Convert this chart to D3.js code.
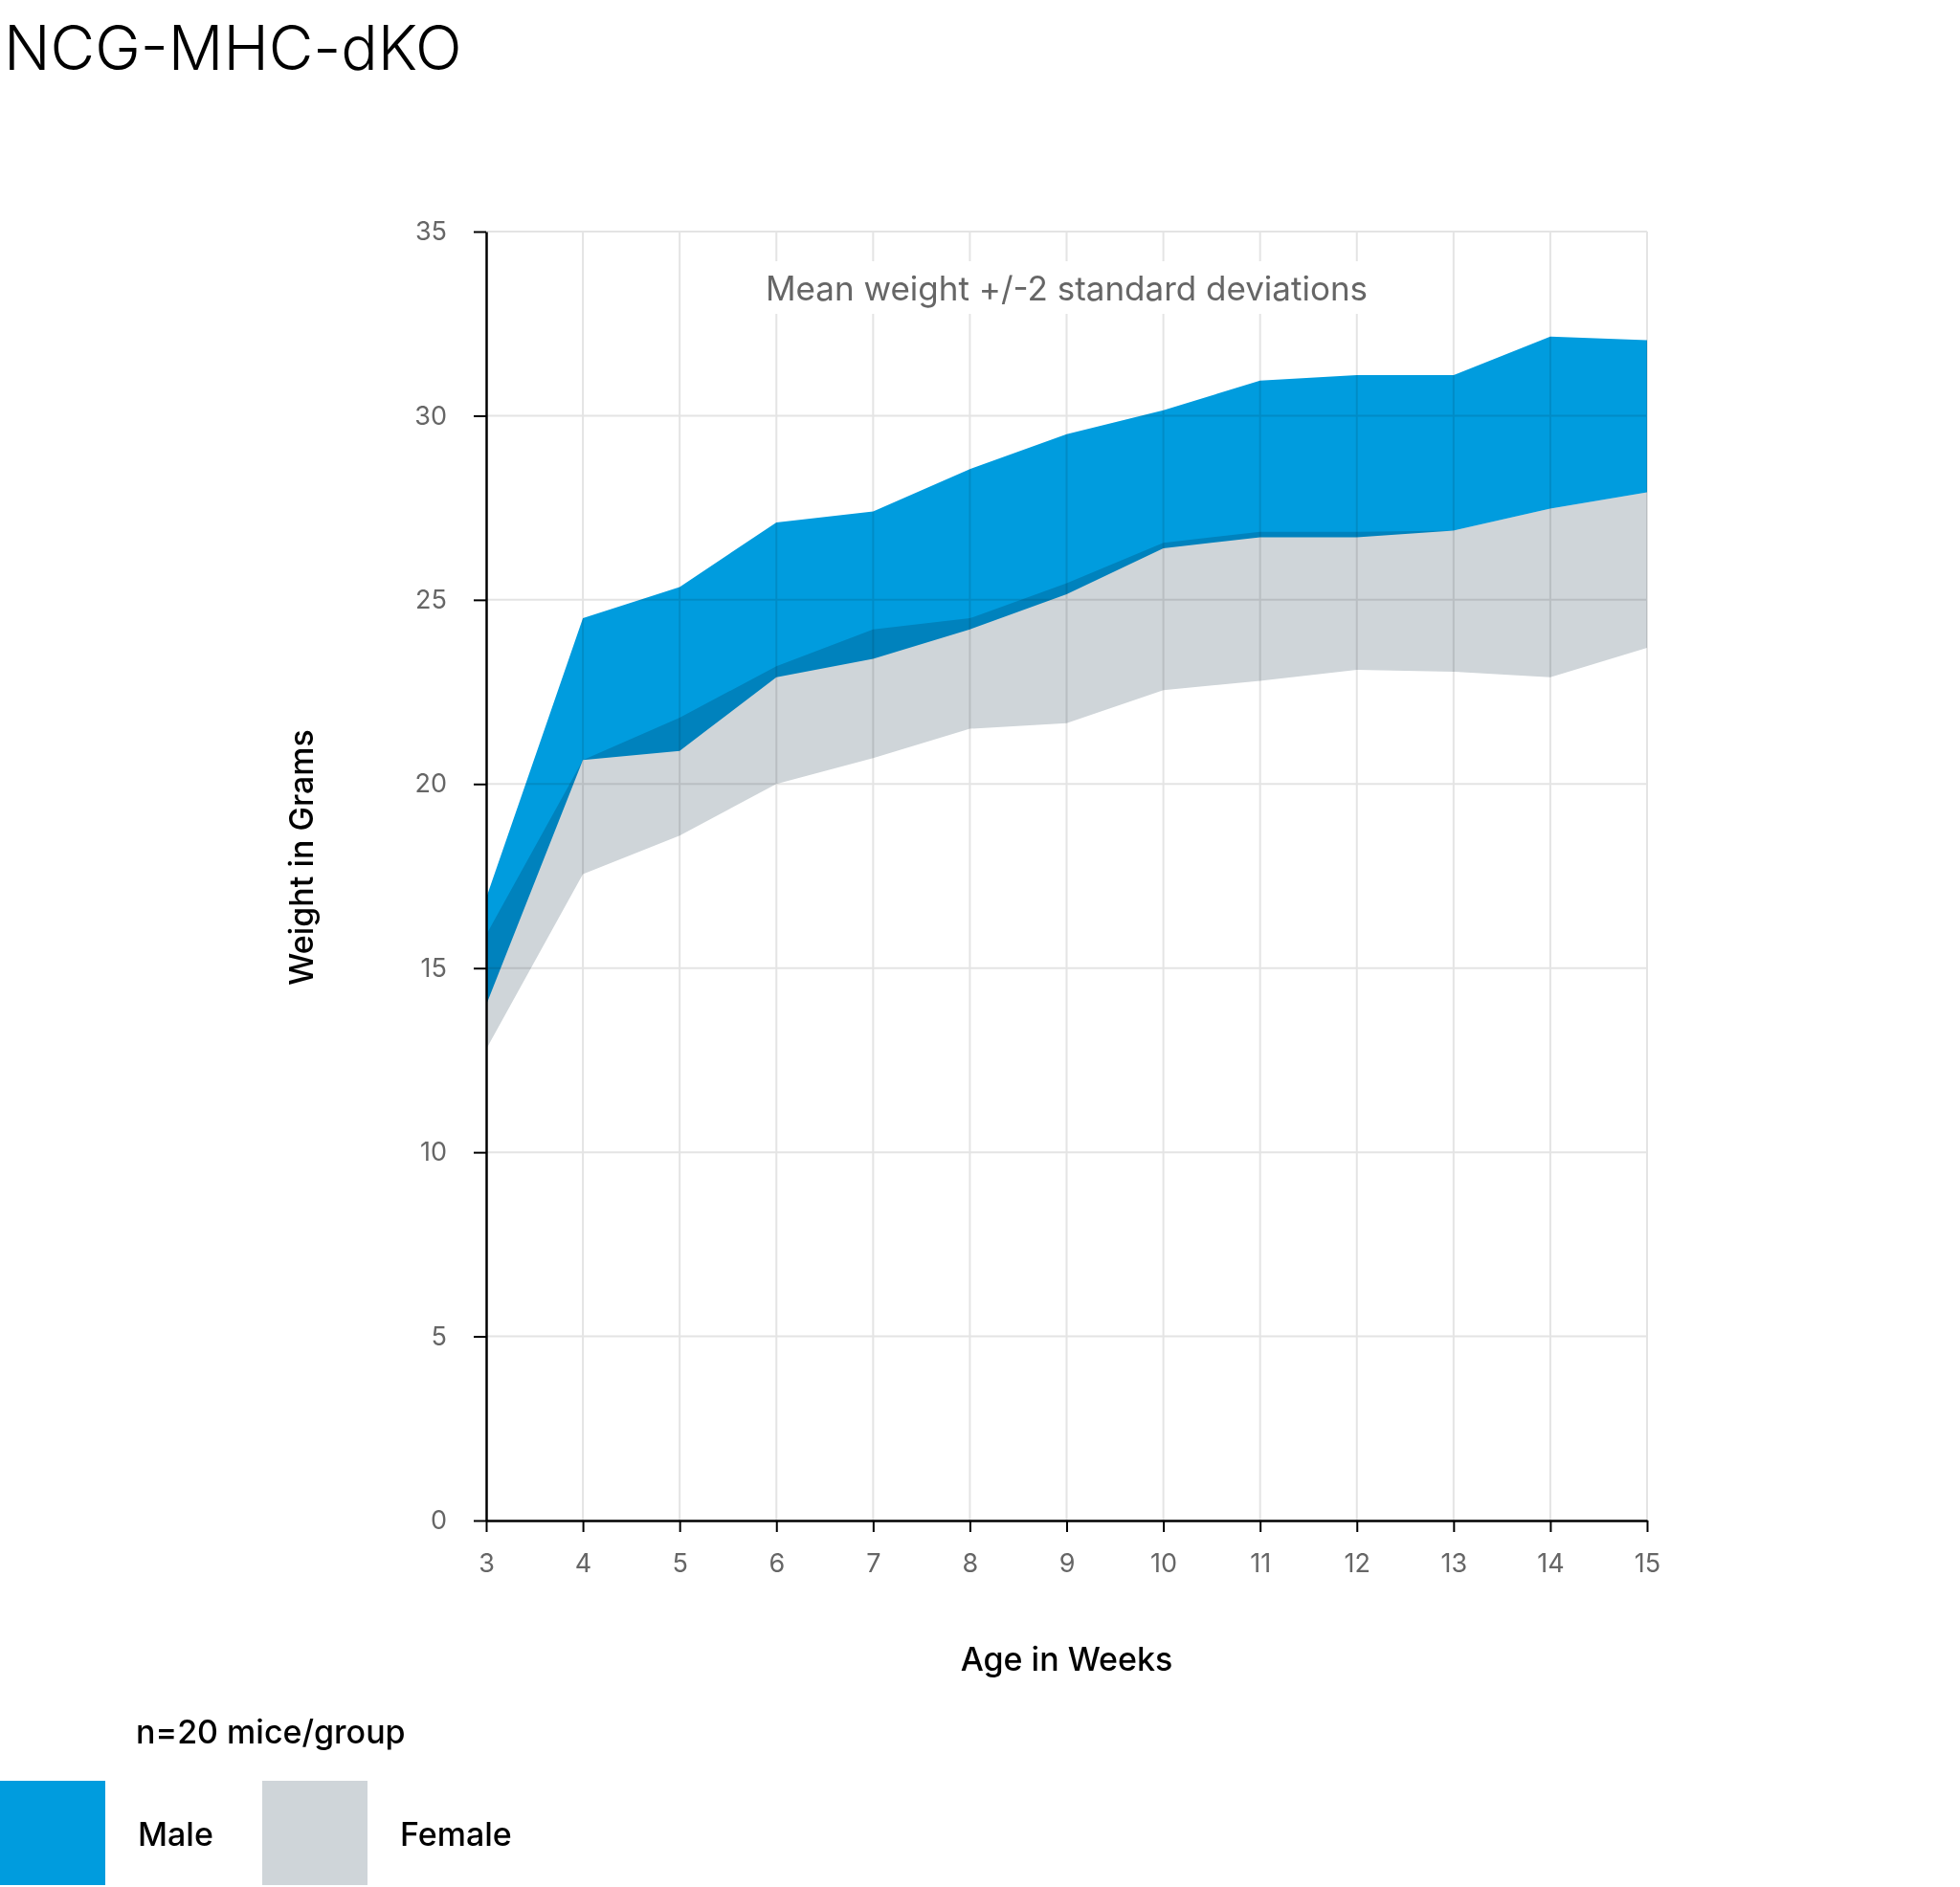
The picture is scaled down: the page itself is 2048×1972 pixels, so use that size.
<!DOCTYPE html>
<html>
<head>
<meta charset="utf-8">
<title>NCG-MHC-dKO</title>
<script src="https://cdn.jsdelivr.net/npm/d3@7"></script>
<style>
  body { margin: 0; background: #fff; }
  svg { display: block; font-family: Inter, "Noto Sans", sans-serif; }
  .area { mix-blend-mode: multiply; }
</style>
</head>
<body>
<div id="chart"></div>
<script>
// weeks of age
var weeks = [3, 4, 5, 6, 7, 8, 9, 10, 11, 12, 13, 14, 15];
var weightTicks = [0, 5, 10, 15, 20, 25, 30, 35];

// mean +/- 2 SD, grams
var maleUpper   = [16.9, 24.5, 25.35, 27.1, 27.4, 28.55, 29.5, 30.15, 30.95, 31.1, 31.1, 32.15, 32.05];
var maleLower   = [14.0, 20.65, 20.9, 22.9, 23.4, 24.2, 25.15, 26.4, 26.7, 26.7, 26.88, 27.48, 27.92];
var femaleUpper = [15.9, 20.65, 21.8, 23.2, 24.2, 24.5, 25.45, 26.55, 26.85, 26.85, 26.88, 27.48, 27.92];
var femaleLower = [12.8, 17.55, 18.6, 20.0, 20.7, 21.5, 21.65, 22.55, 22.8, 23.1, 23.05, 22.9, 23.7];

var groups = ["Male", "Female"];
var groupColors = ["#009cde", "#cfd5d9"];

var width = 2048, height = 1972;
// plot box (note: "top" is taken by window.top, so use plot* names)
var plotLeft = 508, plotRight = 1721, plotTop = 242, plotBottom = 1589;

var svg = d3.select("#chart").append("svg")
  .attr("width", width)
  .attr("height", height);

var x = d3.scaleLinear().domain([3, 15]).range([plotLeft, plotRight]);
var y = d3.scaleLinear().domain([0, 35]).range([plotBottom, plotTop]);

// grid
var grid = svg.append("g").attr("class", "grid");
grid.selectAll("line.h")
  .data(weightTicks.filter(function(d) { return d > 0; }))
  .enter().append("line")
  .attr("class", "h")
  .attr("x1", plotLeft).attr("x2", plotRight)
  .attr("y1", function(d) { return y(d); })
  .attr("y2", function(d) { return y(d); })
  .attr("stroke", "#e4e4e4").attr("stroke-width", 2);
grid.selectAll("line.v")
  .data(weeks.filter(function(d) { return d > 3; }))
  .enter().append("line")
  .attr("class", "v")
  .attr("x1", function(d) { return x(d); })
  .attr("x2", function(d) { return x(d); })
  .attr("y1", plotTop).attr("y2", plotBottom)
  .attr("stroke", "#e4e4e4").attr("stroke-width", 2);

// note inside the plot, with a white box behind it
var note = svg.append("g");
var noteBg = note.append("rect").attr("fill", "#fff");
var noteText = note.append("text")
  .attr("x", (plotLeft + plotRight) / 2)
  .attr("y", 314)
  .attr("text-anchor", "middle")
  .attr("font-size", 35)
  .attr("fill", "#666")
  .text("Mean weight +/-2 standard deviations");
var bb = noteText.node().getBBox();
noteBg.attr("x", bb.x - 9).attr("y", 273)
  .attr("width", bb.width + 18).attr("height", 55);

// bands
var rows = weeks.map(function(w, i) {
  return { week: w, mU: maleUpper[i], mL: maleLower[i], fU: femaleUpper[i], fL: femaleLower[i] };
});

var femaleArea = d3.area()
  .x(function(d) { return x(d.week); })
  .y0(function(d) { return y(d.fL); })
  .y1(function(d) { return y(d.fU); });
var maleArea = d3.area()
  .x(function(d) { return x(d.week); })
  .y0(function(d) { return y(d.mL); })
  .y1(function(d) { return y(d.mU); });

svg.append("path").datum(rows)
  .attr("class", "area")
  .attr("fill", groupColors[1])
  .attr("d", femaleArea);
svg.append("path").datum(rows)
  .attr("class", "area")
  .attr("fill", groupColors[0])
  .attr("d", maleArea);

// axes
var yAxis = svg.append("g")
  .attr("transform", "translate(" + plotLeft + ",0)")
  .call(d3.axisLeft(y).tickValues(weightTicks).tickSize(13).tickSizeOuter(0).tickPadding(28));
var xAxis = svg.append("g")
  .attr("transform", "translate(0," + plotBottom + ")")
  .call(d3.axisBottom(x).tickValues(weeks).tickSize(12).tickSizeOuter(0).tickPadding(23));

[yAxis, xAxis].forEach(function(ax) {
  ax.select(".domain").attr("stroke", "#000").attr("stroke-width", 2.5);
  ax.selectAll(".tick line").attr("stroke", "#000").attr("stroke-width", 2);
  ax.selectAll(".tick text")
    .attr("font-size", 27)
    .attr("font-family", "Inter, sans-serif")
    .attr("fill", "#666");
});

// titles
svg.append("text")
  .attr("x", 4).attr("y", 73)
  .attr("font-size", 64)
  .attr("font-weight", 300)
  .attr("fill", "#000")
  .text("NCG-MHC-dKO");

svg.append("text")
  .attr("x", (plotLeft + plotRight) / 2).attr("y", 1746)
  .attr("text-anchor", "middle")
  .attr("font-size", 34)
  .attr("font-weight", 500)
  .text("Age in Weeks");

svg.append("text")
  .attr("transform", "translate(327,896) rotate(-90)")
  .attr("text-anchor", "middle")
  .attr("font-size", 34)
  .attr("font-weight", 500)
  .text("Weight in Grams");

// legend
svg.append("text")
  .attr("x", 142).attr("y", 1822)
  .attr("font-size", 34)
  .attr("font-weight", 500)
  .text("n=20 mice/group");

var legend = svg.selectAll("g.legend")
  .data(groups)
  .enter().append("g")
  .attr("class", "legend")
  .attr("transform", function(d, i) { return "translate(" + (i * 274) + ",1861)"; });
legend.append("rect")
  .attr("x", 0).attr("y", 0)
  .attr("width", 110).attr("height", 109)
  .attr("fill", function(d, i) { return groupColors[i]; });
legend.append("text")
  .attr("x", 144).attr("y", 68)
  .attr("font-size", 34)
  .attr("font-weight", 500)
  .text(function(d) { return d; });
</script>
</body>
</html>
